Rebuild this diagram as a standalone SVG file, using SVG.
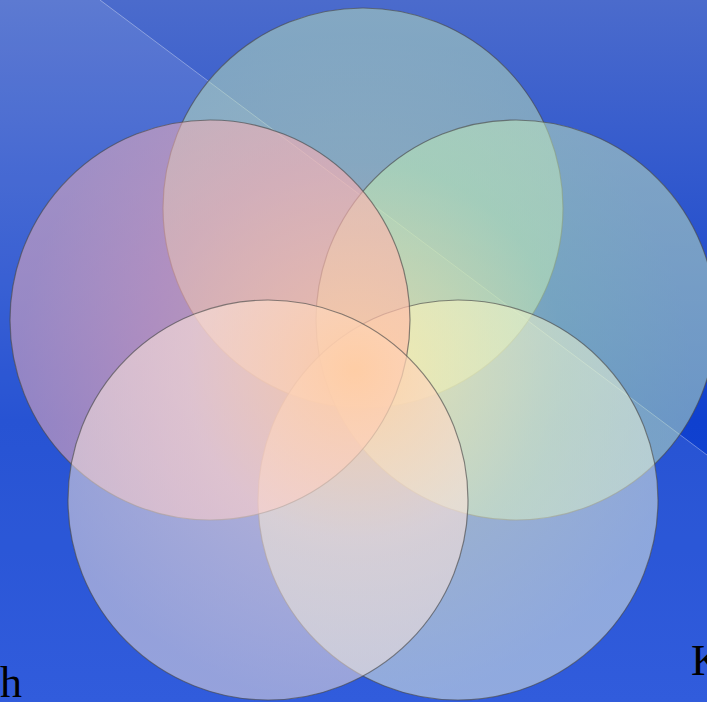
<svg xmlns="http://www.w3.org/2000/svg" width="707" height="702" viewBox="0 0 707 702">
  <style>
    .c { stroke: #4a4a4a; stroke-width: 1.2; stroke-opacity: 0.65; }
    .t { font-family: "Liberation Serif", "Times New Roman", serif; font-size: 44px; fill: #000; }
  </style>
  <defs>
    <linearGradient id="bg" x1="0" y1="0" x2="0" y2="1">
      <stop offset="0" stop-color="#4b6bcc"/>
      <stop offset="0.6" stop-color="#0f40cf"/>
      <stop offset="1" stop-color="#1a4ad8"/>
    </linearGradient>
    <radialGradient id="gTop" gradientUnits="userSpaceOnUse" cx="355" cy="370" r="420">
      <stop offset="0" stop-color="rgb(250,212,168)" stop-opacity="0.68"/>
      <stop offset="0.5" stop-color="rgb(200,230,182)" stop-opacity="0.55"/>
      <stop offset="0.8" stop-color="rgb(190,230,185)" stop-opacity="0.5"/>
    </radialGradient>
    <radialGradient id="gRight" gradientUnits="userSpaceOnUse" cx="355" cy="370" r="420">
      <stop offset="0" stop-color="rgb(240,238,165)" stop-opacity="0.66"/>
      <stop offset="0.5" stop-color="rgb(190,238,182)" stop-opacity="0.54"/>
      <stop offset="0.8" stop-color="rgb(200,236,190)" stop-opacity="0.5"/>
    </radialGradient>
    <radialGradient id="gBR" gradientUnits="userSpaceOnUse" cx="355" cy="370" r="420">
      <stop offset="0" stop-color="rgb(252,240,175)" stop-opacity="0.7"/>
      <stop offset="0.45" stop-color="rgb(240,245,205)" stop-opacity="0.56"/>
      <stop offset="0.8" stop-color="rgb(240,248,226)" stop-opacity="0.5"/>
    </radialGradient>
    <radialGradient id="gLeft" gradientUnits="userSpaceOnUse" cx="355" cy="370" r="420">
      <stop offset="0" stop-color="rgb(255,195,165)" stop-opacity="0.72"/>
      <stop offset="0.5" stop-color="rgb(255,175,180)" stop-opacity="0.6"/>
      <stop offset="0.8" stop-color="rgb(250,180,184)" stop-opacity="0.5"/>
    </radialGradient>
    <radialGradient id="gBL" gradientUnits="userSpaceOnUse" cx="355" cy="370" r="420">
      <stop offset="0" stop-color="rgb(255,205,165)" stop-opacity="0.78"/>
      <stop offset="0.4" stop-color="rgb(250,225,218)" stop-opacity="0.62"/>
      <stop offset="0.8" stop-color="rgb(250,232,220)" stop-opacity="0.5"/>
    </radialGradient>
  </defs>
  <rect width="707" height="702" fill="url(#bg)"/>
  <polygon points="100,0 707,455 707,702 0,702 0,0" fill="#ffffff" fill-opacity="0.1"/>
  <line x1="100" y1="0" x2="707" y2="455" stroke="#ffffff" stroke-opacity="0.35" stroke-width="1"/>

  <g id="circle-top"><circle class="c" cx="363" cy="208" r="200" fill="url(#gTop)"/></g>
  <g id="circle-right"><circle class="c" cx="516" cy="320" r="200" fill="url(#gRight)"/></g>
  <g id="circle-bottom-right"><circle class="c" cx="458" cy="500" r="200" fill="url(#gBR)"/></g>
  <g id="circle-left"><circle class="c" cx="210" cy="320" r="200" fill="url(#gLeft)"/></g>
  <g id="circle-bottom-left"><circle class="c" cx="268" cy="500" r="200" fill="url(#gBL)"/></g>

  <g id="connectors"/>

  <text class="t" x="0" y="697">h</text>
  <text class="t" x="691" y="675">K</text>
</svg>
